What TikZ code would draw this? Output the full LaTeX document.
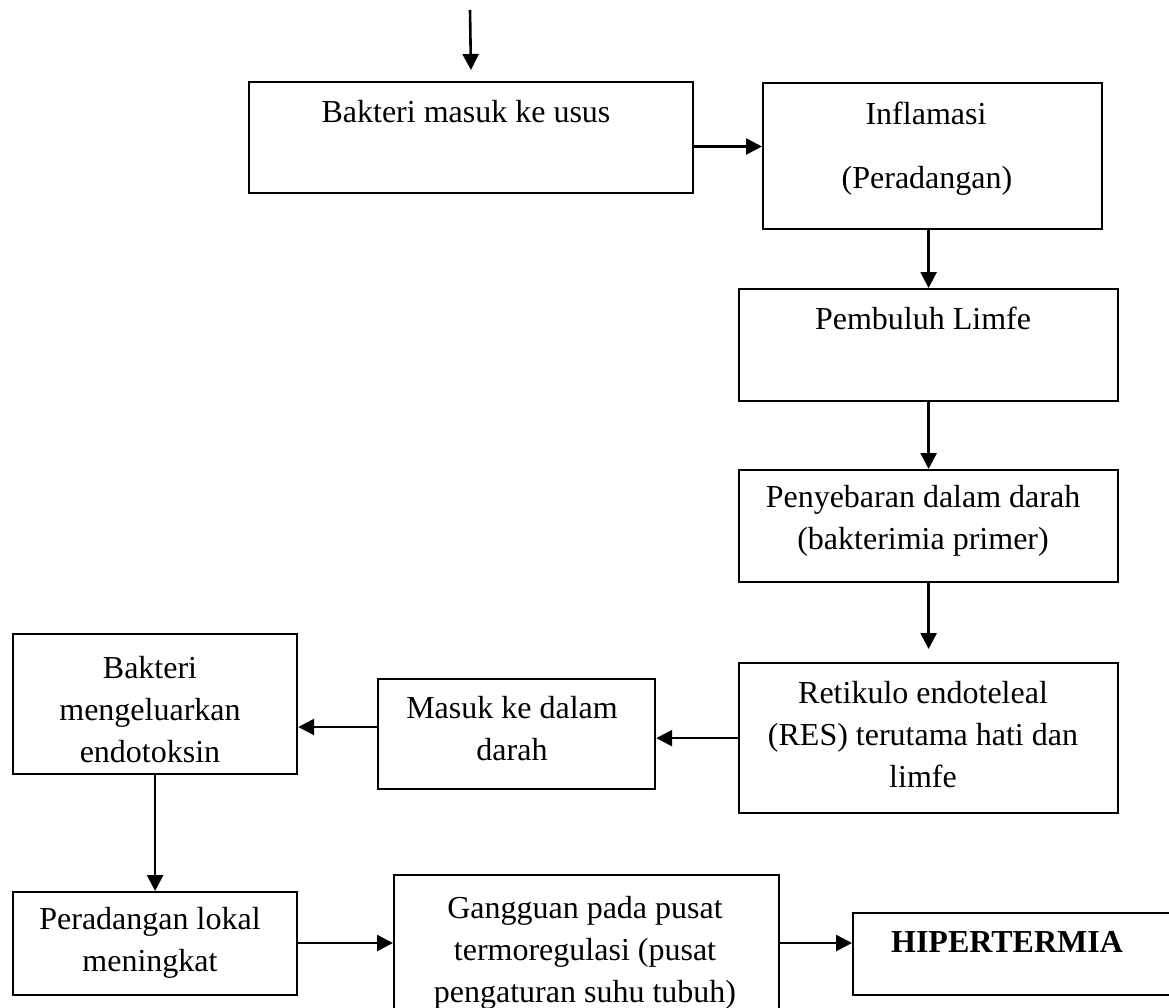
\documentclass[tikz,border=0pt]{standalone}
\usepackage{fontspec}
\setmainfont{Liberation Serif}
\usetikzlibrary{arrows.meta}
\begin{document}
\begin{tikzpicture}[x=1pt,y=-1pt,
  box/.style={draw=black, line width=2.2pt, rectangle, inner sep=0pt, anchor=north west},
  txt/.style={align=center, inner sep=0pt, font=\fontsize{32}{42}\selectfont},
  arr/.style={line width=2.6pt, -{Triangle[length=16pt,width=16pt]}}]
\clip (0,0) rectangle (1169,1007);
\fill[white] (0,0) rectangle (1169,1007);
% boxes
\node[box, minimum width=444pt, minimum height=111pt] (b1) at (248,81) {};
\node[box, minimum width=339pt, minimum height=146pt] (b2) at (762,82) {};
\node[box, minimum width=379pt, minimum height=112pt] (b3) at (738,288) {};
\node[box, minimum width=379pt, minimum height=112pt] (b4) at (738,469) {};
\node[box, minimum width=379pt, minimum height=150pt] (b5) at (738,662) {};
\node[box, minimum width=277pt, minimum height=110pt] (b6) at (377,678) {};
\node[box, minimum width=284pt, minimum height=140pt] (b7) at (12,633) {};
\node[box, minimum width=284pt, minimum height=103pt] (b8) at (12,891) {};
\node[box, minimum width=385pt, minimum height=160pt] (b9) at (393,874) {};
\node[box, minimum width=330pt, minimum height=82pt] (b10) at (852,912) {};
% texts
\node[txt] (t1) at (466,112) {Bakteri masuk ke usus};
\node[txt] (t2a) at (926,113) {Inflamasi};
\node[txt] (t2b) at (927,181) {(Peradangan)};
\node[txt] (t3) at (923,318) {Pembuluh Limfe};
\node[txt] (t4) at (923,521) {Penyebaran dalam darah\\(bakterimia primer)};
\node[txt] (t5) at (923,735) {Retikulo endoteleal\\(RES) terutama hati dan\\limfe};
\node[txt] (t6) at (512,729) {Masuk ke dalam\\darah};
\node[txt] (t7) at (150,710) {Bakteri\\mengeluarkan\\endotoksin};
\node[txt] (t8) at (150,943) {Peradangan lokal\\meningkat};
\node[txt] (t9) at (585,953) {Gangguan pada pusat\\termoregulasi (pusat\\pengaturan suhu tubuh)};
\node[txt, font=\fontsize{32}{42}\selectfont\bfseries] (t10) at (1007,942) {HIPERTERMIA};
% connectors
\coordinate (top) at (470,10);
\coordinate (y1) at (0,146.5);
\coordinate (y6) at (0,727);
\coordinate (y8) at (0,943);
\draw[arr, shorten >=11pt] (top) -- (b1.north);
\draw[arr] (b1.east |- y1) -- (b2.west |- y1);
\draw[arr] (b3.north |- b2.south) -- (b3.north);
\draw[arr] (b3.south) -- (b4.north);
\draw[arr, shorten >=13pt] (b4.south) -- (b5.north);
\draw[arr] (b5.west) -- (b6.east |- b5.west);
\draw[arr] (b6.west |- y6) -- (b7.east |- y6);
\draw[arr] (b7.south) -- (b8.north);
\draw[arr] (b8.east |- y8) -- (b9.west |- y8);
\draw[arr] (b9.east |- y8) -- (b10.west |- y8);
\end{tikzpicture}
\end{document}
